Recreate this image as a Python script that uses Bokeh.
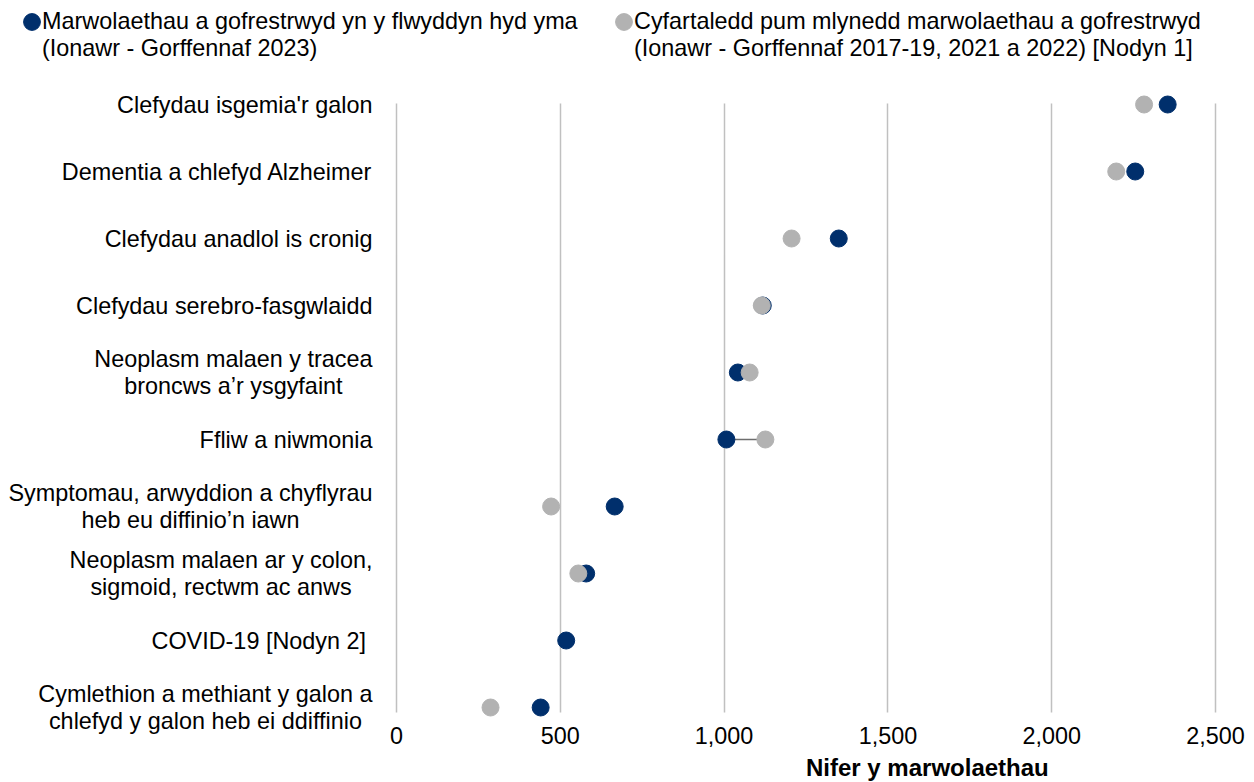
import math
from bokeh.plotting import figure
from bokeh.models import (Range1d, FixedTicker, NumeralTickFormatter, Legend, LegendItem,
                          ColumnDataSource, Label, Text)
from bokeh.core.properties import value
from bokeh.embed import file_html
from bokeh.resources import INLINE

# ---- data (top to bottom) ----
categories = [
    "Clefydau isgemia'r galon",
    "Dementia a chlefyd Alzheimer",
    "Clefydau anadlol is cronig",
    "Clefydau serebro-fasgwlaidd",
    "Neoplasm malaen y tracea\nbroncws a\u2019r ysgyfaint",
    "Ffliw a niwmonia",
    "Symptomau, arwyddion a chyflyrau\nheb eu diffinio\u2019n iawn",
    "Neoplasm malaen ar y colon,\nsigmoid, rectwm ac anws",
    "COVID-19 [Nodyn 2] ",
    "Cymlethion a methiant y galon a\nchlefyd y galon heb ei ddiffinio",
]
deaths_2023 = [2354, 2255, 1350, 1118, 1042, 1007, 666, 579, 518, 440]
avg_5yr = [2282, 2197, 1206, 1115, 1078, 1126, 472, 555, float("nan"), 287]
x_ticks = [0, 500, 1000, 1500, 2000, 2500]

legend_cur = ["Marwolaethau a gofrestrwyd yn y flwyddyn hyd yma",
              "(Ionawr - Gorffennaf 2023)"]
legend_avg = ["Cyfartaledd pum mlynedd marwolaethau a gofrestrwyd",
              "(Ionawr - Gorffennaf 2017-19, 2021 a 2022) [Nodyn 1]"]
x_title = "Nifer y marwolaethau"

NAVY = "#002f6c"
GREY = "#b2b2b2"
FONT = "Liberation Sans"
FS = "23.4px"

# ---- geometry (pixels) ----
W, H = 1246, 782
PX_PER_UNIT = 0.3276          # horizontal scale
ZERO_PX = 396                 # where x=0 sits
ROW0_PX, ROW_PX = 104, 67     # first row centre, row pitch
x_start = -ZERO_PX / PX_PER_UNIT
x_end = x_start + W / PX_PER_UNIT
y_top = -ROW0_PX / ROW_PX
y_bot = (H - ROW0_PX) / ROW_PX
AXIS_ROW = (718 - ROW0_PX) / ROW_PX
TITLE_ROW = (767 - ROW0_PX) / ROW_PX
LABEL_X = (372 - ZERO_PX) / PX_PER_UNIT
DOT = 17

pos = list(range(len(categories)))
src = ColumnDataSource(dict(y=pos, cur=deaths_2023, avg=avg_5yr))
lab_src = ColumnDataSource(dict(y=pos, label=categories))
seg_y = [i for i in pos if not math.isnan(avg_5yr[i]) and deaths_2023[i] < avg_5yr[i]]
seg_src = ColumnDataSource(dict(y=seg_y,
                                x0=[deaths_2023[i] for i in seg_y],
                                x1=[avg_5yr[i] for i in seg_y]))

p = figure(frame_width=W, frame_height=H,
           x_range=Range1d(x_start, x_end), y_range=Range1d(y_bot, y_top),
           y_axis_type=None, output_backend="svg", toolbar_location=None,
           min_border=0)
p.outline_line_color = None

p.segment(x0="x0", y0="y", x1="x1", y1="y", source=seg_src, line_color="#6e6e6e", line_width=1.5)
r_cur = p.ellipse(x="cur", y="y", width=DOT, height=DOT, width_units="screen",
                  height_units="screen", source=src, fill_color=NAVY, line_color=NAVY)
r_avg = p.ellipse(x="avg", y="y", width=DOT, height=DOT, width_units="screen",
                  height_units="screen", source=src, fill_color=GREY, line_color=GREY)
blank = p.scatter(x=[], y=[], size=0, alpha=0)

# category labels
text_kw = dict(text_font=value(FONT), text_font_size=value(FS), text_color="#000000",
               text_baseline="middle", text_line_height=1.05)
if "anchor" in Text.properties():
    text_kw.update(text_align="center", anchor="center_right")
else:
    text_kw.update(text_align="right")
p.text(x=LABEL_X, y="y", text="label", source=lab_src, **text_kw)

# x axis drawn at fixed location inside the frame
p.xaxis.fixed_location = AXIS_ROW
p.xaxis.ticker = FixedTicker(ticks=x_ticks)
p.xaxis.formatter = NumeralTickFormatter(format="0,0")
p.xaxis.axis_line_color = None
p.xaxis.major_tick_line_color = None
p.xaxis.minor_tick_line_color = None
p.xaxis.major_label_standoff = 2
p.xaxis.major_label_text_font = FONT
p.xaxis.major_label_text_font_size = FS
p.xaxis.major_label_text_color = "#000000"

p.ygrid.visible = False
p.xgrid.grid_line_color = "#c0c0c0"
p.xgrid.grid_line_width = 1.5
p.xgrid.cross_bounds = (-0.015, 9.075)

p.add_layout(Label(x=1250, y=TITLE_ROW, text=x_title, text_align="left", text_baseline="middle",
                   text_font=FONT, text_font_size="24px", text_font_style="bold",
                   text_color="#000000"))

leg_kw = dict(orientation="vertical", glyph_width=21, glyph_height=21, label_standoff=0,
              spacing=0, padding=0, margin=0, border_line_color=None, background_fill_alpha=0,
              label_text_font=FONT, label_text_font_size=FS, label_text_color="#000000")
leg1 = Legend(items=[LegendItem(label=legend_cur[0], renderers=[r_cur]),
                     LegendItem(label=legend_cur[1], renderers=[blank])],
              location=(21, H - 62), **leg_kw)
leg2 = Legend(items=[LegendItem(label=legend_avg[0], renderers=[r_avg]),
                     LegendItem(label=legend_avg[1], renderers=[blank])],
              location=(613, H - 62), **leg_kw)
p.add_layout(leg1, "center")
p.add_layout(leg2, "center")

open("out.html", "w").write(file_html(p, INLINE))
